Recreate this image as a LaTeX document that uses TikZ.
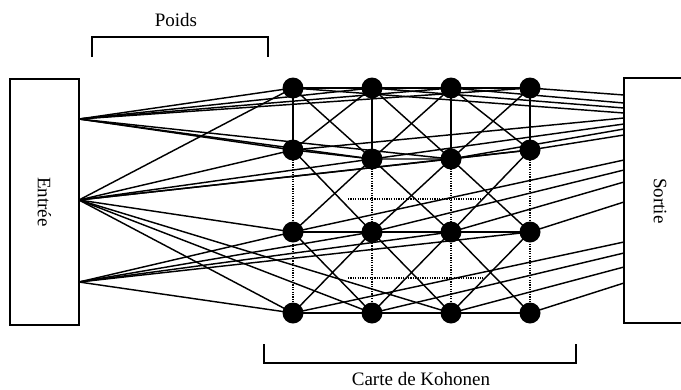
\documentclass[tikz,border=0pt]{standalone}
\usepackage{fontspec}
\setmainfont{Liberation Serif}
\usetikzlibrary{backgrounds}
\begin{document}
\begin{tikzpicture}[x=1pt,y=-1pt,
  neuron/.style={circle,fill=black,inner sep=0pt,minimum size=21pt},
  wire/.style={line width=1.45pt},
  dotwire/.style={line width=1.3pt,dash pattern=on 1.2pt off 1.2pt},
  frame/.style={draw,line width=1.4pt,inner sep=0pt},
  lbl/.style={font=\fontsize{19}{22}\selectfont}]
\path[use as bounding box] (0,0) rectangle (681,389);

% Input and output layers
\node[frame,rotate=-90,minimum width=246pt,minimum height=69pt,lbl] (entree) at (44.5,202) {Entrée};
\node[frame,rotate=-90,minimum width=245pt,minimum height=80pt] (sortie) at (664,200.5) {};
\node[rotate=-90,lbl] (sortietxt) at (660,201) {Sortie};

% Kohonen map neurons (column, row)
\node[neuron] (n11) at (293,88) {};
\node[neuron] (n21) at (372,88) {};
\node[neuron] (n31) at (451,88) {};
\node[neuron] (n41) at (530,88) {};
\node[neuron] (n12) at (293,150) {};
\node[neuron] (n22) at (372,159) {};
\node[neuron] (n32) at (451,159) {};
\node[neuron] (n42) at (530,150) {};
\node[neuron] (n13) at (293,232) {};
\node[neuron] (n23) at (372,232) {};
\node[neuron] (n33) at (451,232) {};
\node[neuron] (n43) at (530,232) {};
\node[neuron] (n14) at (293,313) {};
\node[neuron] (n24) at (372,313) {};
\node[neuron] (n34) at (451,313) {};
\node[neuron] (n44) at (530,313) {};

% Connection points on the input layer
\coordinate (ia) at (79,119);
\coordinate (ib) at (79,200);
\coordinate (ic) at (79,282);

% Connection points on the output layer
\coordinate (o11) at (624,113);
\coordinate (o21) at (624,108);
\coordinate (o31) at (624,103);
\coordinate (o41) at (624,95);
\coordinate (o12) at (624,118);
\coordinate (o22) at (624,124);
\coordinate (o32) at (624,129);
\coordinate (o42) at (624,135);
\coordinate (o13) at (624,160);
\coordinate (o23) at (624,170);
\coordinate (o33) at (624,182);
\coordinate (o43) at (624,202);
\coordinate (o14) at (624,242);
\coordinate (o24) at (624,253);
\coordinate (o34) at (624,267);
\coordinate (o44) at (624,283);

% Dotted neighbourhood lines
\coordinate (d1a) at (348,199);
\coordinate (d1b) at (483,199);
\coordinate (d2a) at (348,278);
\coordinate (d2b) at (483,278);

% Brackets
\coordinate (pa) at (92,57);
\coordinate (pb) at (92,37);
\coordinate (pc) at (268,37);
\coordinate (pd) at (268,57);
\coordinate (ka) at (264,344);
\coordinate (kb) at (264,363);
\coordinate (kc) at (576,363);
\coordinate (kd) at (576,344);
\draw[line width=1.4pt] (pa) -- (pb) -- (pc) -- (pd);
\draw[line width=1.4pt] (ka) -- (kb) -- (kc) -- (kd);
\node[lbl] (poids) at (176,20) {Poids};
\node[lbl] (carte) at (421,379) {Carte de Kohonen};

\begin{scope}[on background layer]
  % weights from the input layer
  \foreach \n in {11,21,31,41,12,22,32}
    \draw[wire] (ia) -- (n\n.center);
  \foreach \n in {11,12,22,32,42,13,14,24,34}
    \draw[wire] (ib) -- (n\n.center);
  \foreach \n in {13,23,33,43,14}
    \draw[wire] (ic) -- (n\n.center);
  % weights to the output layer
  \foreach \n in {11,21,31,41,12,22,32,42,13,23,33,43,14,24,34,44}
    \draw[wire] (n\n.center) -- (o\n);
  % rows
  \foreach \r in {1,2,3,4}
    \draw[wire] (n1\r.center) -- (n2\r.center) -- (n3\r.center) -- (n4\r.center);
  % columns
  \foreach \c in {1,2,3,4} {
    \draw[wire] (n\c1.center) -- (n\c2.center);
    \draw[dotwire] (n\c2.center) -- (n\c3.center) -- (n\c4.center);
  }
  % diagonals
  \foreach \c/\d in {1/2,2/3,3/4}
    \foreach \r/\s in {1/2,2/3,3/4} {
      \draw[wire] (n\c\r.center) -- (n\d\s.center);
      \draw[wire] (n\d\r.center) -- (n\c\s.center);
    }
  \draw[dotwire] (d1a) -- (d1b);
  \draw[dotwire] (d2a) -- (d2b);
\end{scope}
\end{tikzpicture}
\end{document}
